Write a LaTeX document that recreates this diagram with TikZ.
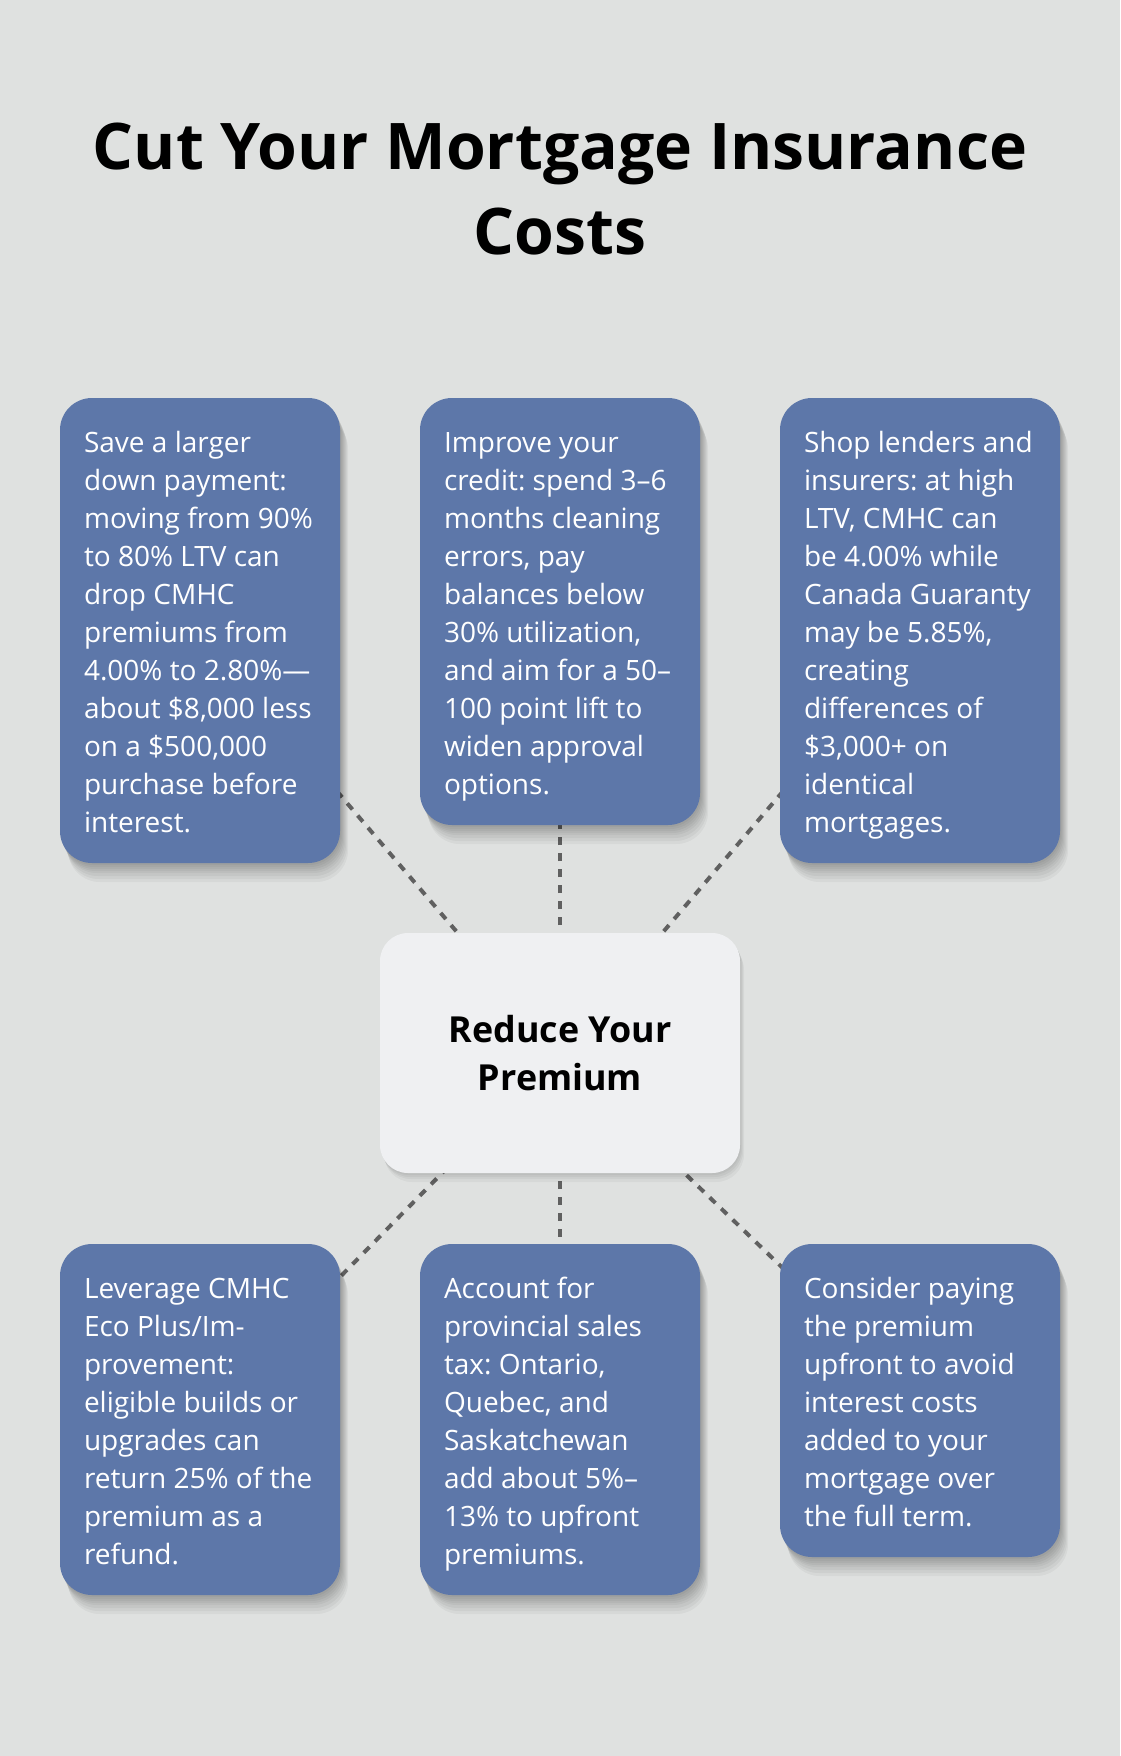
\documentclass[tikz,border=0pt]{standalone}
\usepackage{fontspec}
\setmainfont{Open Sans}
\frenchspacing
\definecolor{bgc}{HTML}{DFE1E0}
\definecolor{boxc}{HTML}{5D77A9}
\definecolor{ctrc}{HTML}{EFF0F2}
\definecolor{linec}{HTML}{606060}
\pgfdeclarelayer{bglayer}
\pgfdeclarelayer{lines}
\pgfsetlayers{bglayer,lines,main}
\tikzset{
  shadowlayer/.style 2 args={preaction={fill=black, fill opacity=0.04,
      transform canvas={shift={(#1pt,#2pt)}}}},
  softshadow/.style={shadowlayer={1}{-2}, shadowlayer={2}{-4}, shadowlayer={3}{-6},
      shadowlayer={4}{-8}, shadowlayer={5}{-10}, shadowlayer={6}{-13}, shadowlayer={7}{-16},
      shadowlayer={8}{-19}},
  lightshadow/.style={shadowlayer={1}{-2}, shadowlayer={2}{-4}, shadowlayer={3}{-6},
      shadowlayer={4}{-9}},
  card/.style={rectangle, rounded corners=32pt, fill=boxc, minimum width=280pt, inner sep=0pt,
      softshadow},
  cardtext/.style={anchor=north west, align=left, inner sep=0pt, text=white,
      font=\fontsize{28pt}{38pt}\selectfont},
  conn/.style={draw=linec, line width=4pt, dash pattern=on 8pt off 8pt},
}
\newcommand{\fl}{\rule{0pt}{22pt}}
\begin{document}
\begin{tikzpicture}[x=1pt,y=-1pt]
\begin{pgfonlayer}{bglayer}
\fill[bgc] (0,0) rectangle (1120,1756);
\end{pgfonlayer}
\useasboundingbox (0,0) rectangle (1120,1756);

\node[font=\bfseries\fontsize{64.3pt}{85pt}\selectfont, align=center, inner sep=0pt] (title) at (560,189)
  {Cut Your Mortgage Insurance\\Costs};

\node[rectangle, rounded corners=28pt, fill=ctrc, minimum width=360pt, minimum height=240pt,
  align=center, inner sep=0pt, font=\bfseries\fontsize{35.84pt}{48pt}\selectfont, lightshadow]
  (c) at (560,1053) {Reduce Your\\Premium};

\node[card, minimum height=465pt] (b1) at (200,630.5) {};
\node[cardtext] (t1) at ([xshift=24pt,yshift=-32pt]b1.north west) {\fl Save a larger\\down payment:\\moving from 90\%\\to 80\% LTV can\\drop CMHC\\premiums from\\4.00\% to 2.80\%—\\about \$8,000 less\\on a \$500,000\\purchase before\\interest.};

\node[card, minimum height=427pt] (b2) at (560,611.5) {};
\node[cardtext] (t2) at ([xshift=24pt,yshift=-32pt]b2.north west) {\fl Improve your\\credit: spend 3–6\\months cleaning\\errors, pay\\balances below\\30\% utilization,\\and aim for a 50–\\100 point lift to\\widen approval\\options.};

\node[card, minimum height=465pt] (b3) at (920,630.5) {};
\node[cardtext] (t3) at ([xshift=24pt,yshift=-32pt]b3.north west) {\fl Shop lenders and\\insurers: at high\\LTV, CMHC can\\be 4.00\% while\\Canada Guaranty\\may be 5.85\%,\\creating\\differences of\\\$3,000+ on\\identical\\mortgages.};

\node[card, minimum height=351pt] (b4) at (200,1419.5) {};
\node[cardtext] (t4) at ([xshift=24pt,yshift=-32pt]b4.north west) {\fl Leverage CMHC\\Eco Plus/Im-\\provement:\\eligible builds or\\upgrades can\\return 25\% of the\\premium as a\\refund.};

\node[card, minimum height=351pt] (b5) at (560,1419.5) {};
\node[cardtext] (t5) at ([xshift=24pt,yshift=-32pt]b5.north west) {\fl Account for\\provincial sales\\tax: Ontario,\\Quebec, and\\Saskatchewan\\add about 5\%–\\13\% to upfront\\premiums.};

\node[card, minimum height=313pt] (b6) at (920,1400.5) {};
\node[cardtext] (t6) at ([xshift=24pt,yshift=-32pt]b6.north west) {\fl Consider paying\\the premium\\upfront to avoid\\interest costs\\added to your\\mortgage over\\the full term.};

\begin{pgfonlayer}{lines}
\draw[conn] (c.center) -- (b1.center);
\draw[conn] (c.center) -- (b2.center);
\draw[conn] (c.center) -- (b3.center);
\draw[conn] (c.center) -- (b4.center);
\draw[conn] (c.center) -- (b5.center);
\draw[conn] (c.center) -- (b6.center);
\end{pgfonlayer}
\end{tikzpicture}
\end{document}
